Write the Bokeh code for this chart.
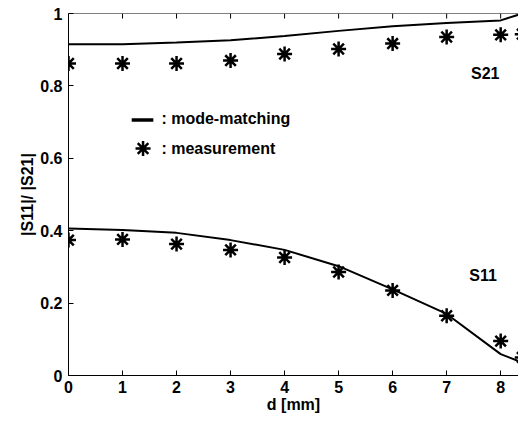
from bokeh.plotting import figure
from bokeh.models import Range1d, FixedTicker, Span
from bokeh.core.properties import value
from bokeh.embed import file_html
from bokeh.resources import INLINE

# ---- data ----
d_model = [0, 1, 2, 3, 4, 5, 6, 7, 8, 8.4]
s21_model = [0.915, 0.915, 0.920, 0.926, 0.938, 0.952, 0.965, 0.974, 0.981, 1.0]
s11_model = [0.406, 0.402, 0.394, 0.374, 0.347, 0.302, 0.238, 0.170, 0.059, 0.036]

d_meas = [0, 1, 2, 3, 4, 5, 6, 7, 8, 8.4]
s21_meas = [0.862, 0.862, 0.862, 0.870, 0.888, 0.902, 0.917, 0.935, 0.941, 0.943]
s11_meas = [0.374, 0.376, 0.363, 0.347, 0.326, 0.286, 0.235, 0.165, 0.095, 0.050]

x_ticks = [0, 1, 2, 3, 4, 5, 6, 7, 8]
y_ticks = [0, 0.2, 0.4, 0.6, 0.8, 1]
y_tick_labels = ["0", "0.2", "0.4", "0.6", "0.8", "1"]

curve_labels = ["S21", "S11"]
curve_label_x = [7.45, 7.42]
curve_label_y = [0.834, 0.277]

legend_texts = [": mode-matching", ": measurement"]

FONT = value("Liberation Sans")
FS = "16px"

p = figure(width=518, height=415, x_range=Range1d(0, 8.33), y_range=Range1d(0, 1),
           output_backend="svg", toolbar_location=None,
           min_border_left=68, min_border_right=0, min_border_top=13, min_border_bottom=40)
p.outline_line_color = None
p.xgrid.visible = False
p.ygrid.visible = False
p.background_fill_color = "white"
p.border_fill_color = "white"

for ax in (p.xaxis[0], p.yaxis[0]):
    ax.major_tick_in = 5
    ax.major_tick_out = 0
    ax.minor_tick_line_color = None
    ax.axis_line_color = "black"
    ax.major_tick_line_color = "black"
    ax.major_label_text_font = "Liberation Sans"
    ax.major_label_text_font_style = "bold"
    ax.major_label_text_font_size = FS
    ax.major_label_text_color = "black"
    ax.axis_label_text_font = "Liberation Sans"
    ax.axis_label_text_font_style = "bold"
    ax.axis_label_text_font_size = FS
    ax.axis_label_text_color = "black"

p.xaxis[0].ticker = FixedTicker(ticks=x_ticks)
p.xaxis[0].axis_label = "d [mm]"
p.xaxis[0].major_label_standoff = 5
p.xaxis[0].axis_label_standoff = 0

p.yaxis[0].ticker = FixedTicker(ticks=y_ticks)
p.yaxis[0].major_label_overrides = {t: l for t, l in zip(y_ticks, y_tick_labels)}
p.yaxis[0].axis_label = "|S11|/ |S21|"
p.yaxis[0].major_label_standoff = 6
p.yaxis[0].axis_label_standoff = 1

# top frame line with inward ticks
p.add_layout(Span(location=1, dimension="width", line_color="black", line_width=1))
p.segment(x0=x_ticks, y0=[1] * len(x_ticks), x1=x_ticks, y1=[0.986] * len(x_ticks),
          line_color="black", line_width=1)

# curves
p.line(d_model, s21_model, line_color="black", line_width=2)
p.line(d_model, s11_model, line_color="black", line_width=2)
p.scatter(d_meas, s21_meas, marker="asterisk", size=15, line_color="black", line_width=2.5)
p.scatter(d_meas, s11_meas, marker="asterisk", size=15, line_color="black", line_width=2.5)

# curve labels
p.text(x=curve_label_x, y=curve_label_y, text=curve_labels, text_font=FONT,
       text_font_style="bold", text_font_size=FS, text_baseline="middle", text_align="left",
       text_color="black")

# legend (manual)
p.line([1.17, 1.57], [0.706, 0.706], line_color="black", line_width=3.5)
p.scatter([1.38], [0.627], marker="asterisk", size=15, line_color="black", line_width=2.5)
p.text(x=[1.72, 1.72], y=[0.709, 0.627], text=legend_texts, text_font=FONT,
       text_font_style="bold", text_font_size=FS, text_baseline="middle", text_align="left",
       text_color="black")

open("out.html", "w").write(file_html(p, INLINE))
